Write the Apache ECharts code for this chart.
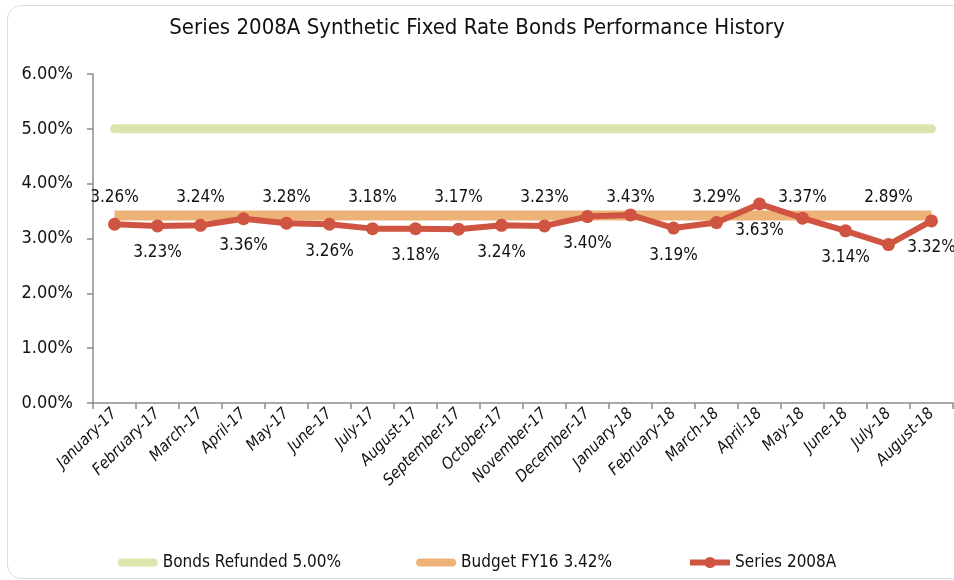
<!DOCTYPE html>
<html>
<head>
<meta charset="utf-8">
<script src="https://cdn.jsdelivr.net/npm/echarts@6/dist/echarts.min.js"></script>
<style>
  html, body { margin: 0; padding: 0; background: #fff; }
  #frame { position: absolute; left: 7px; top: 5px; width: 990px; height: 572px;
           border: 1px solid #dcdcdc; border-radius: 14px; }
  #main { position: absolute; left: 0; top: 0; width: 954px; height: 580px; }
</style>
</head>
<body>
<div id="frame"></div>
<div id="main"></div>
<script>
var FONT = '"Liberation Sans Narrow", "DejaVu Sans Condensed", "Roboto", sans-serif';

// categories
var months = ['January-17', 'February-17', 'March-17', 'April-17', 'May-17', 'June-17',
  'July-17', 'August-17', 'September-17', 'October-17', 'November-17', 'December-17',
  'January-18', 'February-18', 'March-18', 'April-18', 'May-18', 'June-18', 'July-18', 'August-18'];

// values (percent)
var series2008A = [3.26, 3.23, 3.24, 3.36, 3.28, 3.26, 3.18, 3.18, 3.17, 3.24,
  3.23, 3.40, 3.43, 3.19, 3.29, 3.63, 3.37, 3.14, 2.89, 3.32];
var bondsRefunded = [5, 5, 5, 5, 5, 5, 5, 5, 5, 5, 5, 5, 5, 5, 5, 5, 5, 5, 5, 5];
var budgetFY16 = [3.42, 3.42, 3.42, 3.42, 3.42, 3.42, 3.42, 3.42, 3.42, 3.42,
  3.42, 3.42, 3.42, 3.42, 3.42, 3.42, 3.42, 3.42, 3.42, 3.42];

// y axis ticks
var yMin = 0, yMax = 6, yStep = 1;
// the upper labels sit on one row in the original
var upperLabelRow = 3.75;

var GREEN = '#dae6ae', ORANGE = '#edb277', RED = '#cf5441';

var chart = echarts.init(document.getElementById('main'));

var upperLabels = series2008A.map(function (v, i) {
  return i % 2 === 0 ? [i, upperLabelRow] : [i, null];
});

chart.setOption({
  animation: false,
  textStyle: { fontFamily: FONT },
  title: {
    text: 'Series 2008A Synthetic Fixed Rate Bonds Performance History',
    left: 'center',
    top: 12,
    textStyle: { fontFamily: FONT, fontSize: 22, fontWeight: 'normal', color: '#111' }
  },
  legend: {
    bottom: 4,
    left: 'center',
    itemWidth: 40,
    itemHeight: 14,
    itemGap: 75,
    textStyle: { fontFamily: FONT, fontSize: 17, color: '#111' },
    data: [
      { name: 'Bonds Refunded 5.00%', icon: 'path://M4,0 L36,0 A4,4 0 0 1 36,8 L4,8 A4,4 0 0 1 4,0 Z' },
      { name: 'Budget FY16 3.42%', icon: 'path://M4,0 L36,0 A4,4 0 0 1 36,8 L4,8 A4,4 0 0 1 4,0 Z' },
      { name: 'Series 2008A', lineStyle: { width: 6 } }
    ]
  },
  grid: { left: 93, right: 1, top: 74, bottom: 177 },
  xAxis: {
    type: 'category',
    data: months,
    boundaryGap: true,
    axisLine: { lineStyle: { color: '#8c8c8c', width: 1.5 } },
    axisTick: { show: true, length: 6, lineStyle: { color: '#8c8c8c', width: 1.5 } },
    axisLabel: {
      rotate: 45, interval: 0, margin: 8,
      fontFamily: FONT, fontSize: 16, fontStyle: 'italic', color: '#111'
    }
  },
  yAxis: {
    type: 'value',
    min: yMin, max: yMax, interval: yStep,
    axisLine: { show: true, lineStyle: { color: '#8c8c8c', width: 1.5 } },
    axisTick: { show: true, length: 6, lineStyle: { color: '#8c8c8c', width: 1.5 } },
    splitLine: { show: false },
    axisLabel: {
      margin: 20, fontFamily: FONT, fontSize: 18, color: '#111',
      formatter: function (v) { return v.toFixed(2) + '%'; }
    }
  },
  series: [
    {
      name: 'Bonds Refunded 5.00%',
      type: 'line',
      data: bondsRefunded,
      symbol: 'none',
      lineStyle: { color: GREEN, width: 9, cap: 'round' },
      itemStyle: { color: GREEN }
    },
    {
      name: 'Budget FY16 3.42%',
      type: 'line',
      data: budgetFY16,
      symbol: 'none',
      lineStyle: { color: ORANGE, width: 10, cap: 'butt' },
      itemStyle: { color: ORANGE }
    },
    {
      name: 'Series 2008A',
      type: 'line',
      data: series2008A,
      symbol: 'circle',
      symbolSize: 13,
      z: 5,
      lineStyle: { color: RED, width: 6, join: 'round' },
      itemStyle: { color: RED },
      label: {
        show: true,
        position: 'bottom',
        distance: 12,
        fontFamily: FONT, fontSize: 17, color: '#111',
        formatter: function (p) {
          return p.dataIndex % 2 === 1 ? p.value.toFixed(2) + '%' : '';
        }
      }
    },
    {
      name: 'labels',
      type: 'scatter',
      data: upperLabels,
      symbolSize: 0,
      silent: true,
      z: 6,
      itemStyle: { opacity: 1 },
      label: {
        show: true,
        position: 'inside',
        fontFamily: FONT, fontSize: 17, color: '#111',
        formatter: function (p) {
          return series2008A[p.dataIndex].toFixed(2) + '%';
        }
      }
    }
  ]
});
</script>
</body>
</html>
